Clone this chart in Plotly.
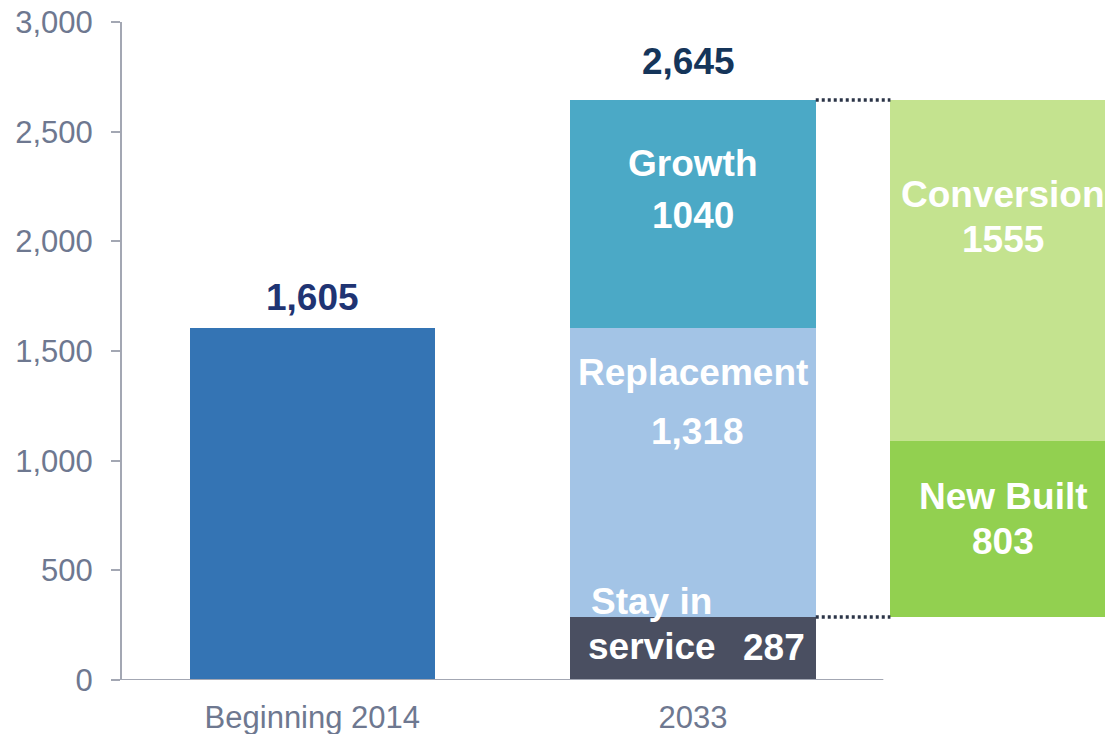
import plotly.graph_objects as go

# data
categories = ['Beginning 2014', '2033']
start_total = 1605
stay_in_service = 287
replacement = 1318
growth = 1040
new_built = 803
conversion = 1555
total_2033 = stay_in_service + replacement + growth
y_ticks = [0, 500, 1000, 1500, 2000, 2500, 3000]

GREY = '#6E7890'
AXIS = '#A3A7B3'
LABEL_FONT = dict(family='Liberation Sans, Arial', size=37, color='white')

x_start, x_2033, x_side = 0, 1, 1.8
w_main, w_side = 0.645, 0.5625

fig = go.Figure()

def add_bar(x, base, value, color, width):
    fig.add_trace(go.Bar(x=[x], y=[value], base=[base], width=[width],
                         marker=dict(color=color, line_width=0),
                         hoverinfo='skip', showlegend=False))

add_bar(x_start, 0, start_total, '#3474B4', w_main)
add_bar(x_2033, 0, stay_in_service, '#4A4F61', w_main)
add_bar(x_2033, stay_in_service, replacement, '#A3C4E6', w_main)
add_bar(x_2033, stay_in_service + replacement, growth, '#4BA9C6', w_main)
add_bar(x_side, stay_in_service, new_built, '#92D050', w_side)
add_bar(x_side, stay_in_service + new_built, conversion, '#C4E38F', w_side)

# dotted connectors between the 2033 bar and the split bar
for level in [total_2033, stay_in_service]:
    fig.add_shape(type='line', xref='x', yref='y',
                  x0=x_2033 + w_main / 2, x1=x_side - w_side / 2, y0=level, y1=level,
                  line=dict(color='#2B3447', width=3.5, dash='3px,3px'))

# x axis line drawn only under the two categories
fig.add_shape(type='line', xref='x', yref='y', x0=-0.5, x1=1.5, y0=0, y1=0,
              line=dict(color=AXIS, width=2))
for xt in [-0.5, 0.5, 1.5]:
    fig.add_shape(type='line', xref='x', yref='y', ysizemode='pixel', yanchor=0,
                  x0=xt, x1=xt, y0=0, y1=-9, line=dict(color=AXIS, width=2))

def label(x, y, text, **kw):
    font = dict(LABEL_FONT)
    font.update(kw.pop('font', {}))
    fig.add_annotation(x=x, y=y, text=f'<b>{text}</b>', showarrow=False,
                       font=font, **kw)

label(x_start, 1745, '{:,}'.format(start_total), font=dict(color='#1F3473'))
label(0.987, 2820, '{:,}'.format(total_2033), font=dict(color='#15355A'))
label(x_2033, 2355, 'Growth')
label(x_2033, 2118, str(growth))
label(x_2033, 1400, 'Replacement')
label(1.012, 1131, '{:,}'.format(replacement))
label(0.892, 360, 'Stay in')
label(0.892, 155, 'service')
label(1.213, 146, str(stay_in_service))
label(1.815, 2215, 'Conversion')
label(1.815, 2010, str(conversion))
label(1.815, 835, 'New Built')
label(1.815, 630, str(new_built))

fig.update_layout(
    width=1106, height=734,
    margin=dict(l=122, r=0, t=22, b=54),
    plot_bgcolor='white', paper_bgcolor='white',
    barmode='overlay', bargap=0,
    font=dict(family='Liberation Sans, Arial', color=GREY),
)
fig.update_xaxes(range=[-0.5, 2.085], tickvals=[x_start, x_2033], ticktext=categories,
                 showline=False, showgrid=False, zeroline=False, ticks='', automargin=False,
                 tickfont=dict(size=31, color=GREY), ticklabelstandoff=16)
fig.update_yaxes(range=[0, 3000.5], tickvals=y_ticks, tickformat=',', showgrid=False, zeroline=False,
                 showline=True, linecolor=AXIS, linewidth=2, automargin=False,
                 ticklabeloverflow='allow',
                 ticks='outside', ticklen=9, tickcolor=AXIS, tickwidth=2,
                 tickfont=dict(size=31, color=GREY), ticklabelstandoff=12)

# drop the browser's default body margin so the figure fills the window exactly
fig.write_html('out.html', config={'displayModeBar': False},
               post_script="document.body.style.margin='0';document.body.style.overflow='hidden';")
